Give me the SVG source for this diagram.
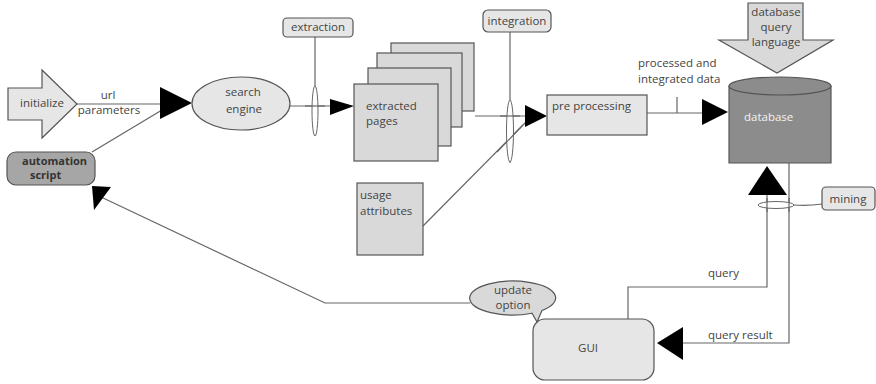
<svg xmlns="http://www.w3.org/2000/svg" width="876" height="384" viewBox="0 0 876 384">
  <style>
    .txt { font-family: "Open Sans", "Liberation Sans", sans-serif; font-size: 11.5px; fill: #444; }
    .mid { text-anchor: middle; }
    .bold { font-weight: bold; fill: #333; font-size: 11px; }
    .white { fill: #f2f2f2; }
    .box { fill: #d9d9d9; stroke: #555; stroke-width: 1.2; }
    .light { fill: #e6e6e6; stroke: #555; stroke-width: 1.2; }
    .dark { fill: #a6a6a6; stroke: #555; stroke-width: 1.2; }
    .db { fill: #8c8c8c; stroke: #555; stroke-width: 1.2; }
    .line { fill: none; stroke: #666; stroke-width: 1.2; }
    .ring { fill: #fff; stroke: #666; stroke-width: 1; }
    .head { fill: #000; }
  </style>

  <rect width="876" height="384" fill="#fff"/>

  <!-- connectors -->
  <g id="connectors">
    <!-- initialize -> search engine (url parameters) -->
    <line class="line" x1="77" y1="104" x2="162" y2="104"/>
    <line class="line" x1="92" y1="152" x2="162" y2="110"/>
    <polygon class="head" points="160,87 192,103 160,119"/>
    <!-- search engine -> extracted pages -->
    <line class="line" x1="290" y1="106" x2="332" y2="106"/>
    <polygon class="head" points="330,99 354,106 330,115"/>
    <!-- extraction marker -->
    <line class="line" x1="315" y1="37" x2="315" y2="136"/>
    <ellipse class="ring" cx="315" cy="111" rx="3" ry="25"/>
    <line class="line" x1="305" y1="106" x2="325" y2="106"/>
    <!-- pages / usage -> pre processing -->
    <line class="line" x1="475" y1="116" x2="527" y2="116"/>
    <line class="line" x1="423" y1="226" x2="527" y2="121"/>
    <!-- integration marker -->
    <line class="line" x1="510" y1="32" x2="510" y2="163"/>
    <ellipse class="ring" cx="510" cy="131" rx="3.5" ry="31"/>
    <line class="line" x1="500" y1="116" x2="520" y2="116"/>
    <line class="line" x1="497" y1="152" x2="523" y2="125"/>
    <polygon class="head" points="525,105 547,116 525,127"/>
    <!-- pre processing -> database -->
    <line class="line" x1="647" y1="113" x2="704" y2="113"/>
    <line class="line" x1="677" y1="97" x2="677" y2="113"/>
    <polygon class="head" points="702,99 728,112 702,125"/>
    <!-- GUI -> database (query) -->
    <polyline class="line" points="628,319 628,287 767,287 767,193"/>
    <polygon class="head" points="748,195 767,166 787,195"/>
    <!-- database -> GUI (query result) -->
    <polyline class="line" points="789,163 789,343 681,343"/>
    <polygon class="head" points="683,327 657,343 683,360"/>
    <!-- mining marker -->
    <ellipse class="ring" cx="776" cy="205" rx="18" ry="3.5"/>
    <line class="line" x1="767" y1="198" x2="767" y2="212"/>
    <line class="line" x1="789" y1="198" x2="789" y2="212"/>
    <path class="line" d="M794 205 Q808 206 822 204"/>
    <!-- update option -> automation script -->
    <polyline class="line" points="470,303 325,303 101,197"/>
    <polygon class="head" points="92,186 111,187 94,210"/>
  </g>

  <!-- nodes -->
  <g id="initialize">
    <polygon class="light" points="8,88 42,88 42,70 77,104 42,138 42,120 8,120"/>
    <text class="txt mid" x="42" y="107">initialize</text>
  </g>

  <g id="url-label">
    <text class="txt mid" x="108" y="99">url</text>
    <text class="txt mid" x="109" y="114">parameters</text>
  </g>

  <g id="automation-script">
    <rect class="dark" x="7" y="152" width="88" height="33" rx="9"/>
    <text class="txt bold" x="22" y="165">automation</text>
    <text class="txt bold" x="30" y="179">script</text>
  </g>

  <g id="search-engine">
    <ellipse class="light" cx="241" cy="103.5" rx="49" ry="26.5"/>
    <text class="txt mid" x="243" y="96">search</text>
    <text class="txt mid" x="244" y="113">engine</text>
  </g>

  <g id="extraction">
    <rect class="light" x="283" y="18" width="70" height="19" rx="4"/>
    <text class="txt mid" x="318" y="31">extraction</text>
  </g>

  <g id="extracted-pages">
    <rect class="box" x="391" y="43" width="83" height="68"/>
    <rect class="box" x="377" y="53" width="85" height="74"/>
    <rect class="box" x="368" y="68" width="83" height="78"/>
    <rect class="box" x="354" y="84" width="84" height="77"/>
    <text class="txt" x="366" y="110">extracted</text>
    <text class="txt" x="366" y="125">pages</text>
  </g>

  <g id="usage-attributes">
    <rect class="box" x="357" y="183" width="66" height="72"/>
    <text class="txt" x="360" y="199">usage</text>
    <text class="txt" x="360" y="215">attributes</text>
  </g>

  <g id="integration">
    <rect class="light" x="483" y="10" width="68" height="22" rx="5"/>
    <text class="txt mid" x="517" y="25">integration</text>
  </g>

  <g id="pre-processing">
    <rect class="light" x="547" y="95" width="100" height="40"/>
    <text class="txt" x="552" y="110">pre processing</text>
  </g>

  <g id="processed-label">
    <text class="txt" x="638" y="67">processed and</text>
    <text class="txt" x="638" y="83">integrated data</text>
  </g>

  <g id="query-language">
    <polygon class="box" points="748,3 803,3 803,40 833,40 777,73 719,40 748,40"/>
    <text class="txt mid" x="776" y="16">database</text>
    <text class="txt mid" x="776" y="31">query</text>
    <text class="txt mid" x="776" y="46">language</text>
  </g>

  <g id="database">
    <path class="db" d="M729 86 L729 163 L831 163 L831 86"/>
    <ellipse class="db" cx="780" cy="86" rx="51" ry="9"/>
    <text class="txt white" x="744" y="121">database</text>
  </g>

  <g id="mining">
    <rect class="light" x="822" y="187" width="53" height="23" rx="4"/>
    <text class="txt mid" x="848" y="203">mining</text>
  </g>

  <g id="query-labels">
    <text class="txt" x="708" y="277">query</text>
    <text class="txt" x="708" y="339">query result</text>
  </g>

  <g id="gui">
    <rect class="light" x="533" y="319" width="121" height="61" rx="12"/>
    <text class="txt mid" x="588" y="352">GUI</text>
  </g>

  <g id="update-option">
    <path class="box" d="M542 310.5 A43 17 0 1 0 532 313.25 L537 322 Z"/>
    <text class="txt mid" x="513" y="294">update</text>
    <text class="txt mid" x="513" y="309">option</text>
  </g>
</svg>
